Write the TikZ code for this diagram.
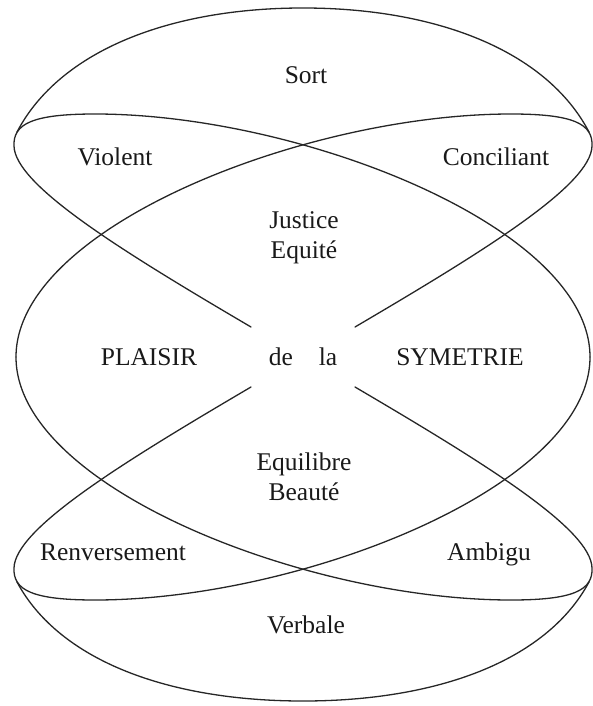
\documentclass[tikz,border=0pt]{standalone}
\usepackage{fontspec}
\setmainfont{Liberation Serif}
\begin{document}
\begin{tikzpicture}[x=1pt,y=-1pt,
  curve/.style={line width=1.3pt,line join=round,line cap=round,draw=black!85},
  lbl/.style={font=\fontsize{25.5}{30}\selectfont,inner sep=0pt,anchor=base,text=black!90}]
\useasboundingbox (0,0) rectangle (592,706);
% outer arcs
\draw[curve] (17,132) .. controls (60,50) and (171,8) .. (303,8)
  .. controls (435,8) and (546,50) .. (589,132);
\draw[curve] (17,582) .. controls (60,662) and (171,701) .. (303,701)
  .. controls (435,701) and (546,662) .. (589,582);
% upper-left quarter
\draw[curve] (251,327) .. controls (120,250) and (15,185) .. (14,146)
  .. controls (13,124) and (32,114) .. (95,114)
  .. controls (300,114) and (590,227) .. (590,357);
% upper-right quarter
\draw[curve] (355,327) .. controls (486,250) and (591,185) .. (592,146)
  .. controls (593,124) and (574,114) .. (511,114)
  .. controls (306,114) and (16,227) .. (16,357);
% lower-left quarter
\draw[curve] (251,387) .. controls (120,464) and (15,529) .. (14,568)
  .. controls (13,590) and (32,600) .. (95,600)
  .. controls (300,600) and (590,487) .. (590,357);
% lower-right quarter
\draw[curve] (355,387) .. controls (486,464) and (591,529) .. (592,568)
  .. controls (593,590) and (574,600) .. (511,600)
  .. controls (306,600) and (16,487) .. (16,357);
% labels
\node[lbl] (sort) at (306,84) {Sort};
\node[lbl] (violent) at (115,165) {Violent};
\node[lbl] (conciliant) at (496,165) {Conciliant};
\node[lbl] (justice) at (304,228) {Justice};
\node[lbl] (equite) at (304,258) {Equité};
\node[lbl] (plaisir) at (149,365) {PLAISIR};
\node[lbl] (de) at (281,365) {de};
\node[lbl] (la) at (328,365) {la};
\node[lbl] (symetrie) at (460,365) {SYMETRIE};
\node[lbl] (equilibre) at (304,470) {Equilibre};
\node[lbl] (beaute) at (304,500) {Beauté};
\node[lbl] (renversement) at (113,560) {Renversement};
\node[lbl] (ambigu) at (489,560) {Ambigu};
\node[lbl] (verbale) at (306,633) {Verbale};
\end{tikzpicture}
\end{document}
